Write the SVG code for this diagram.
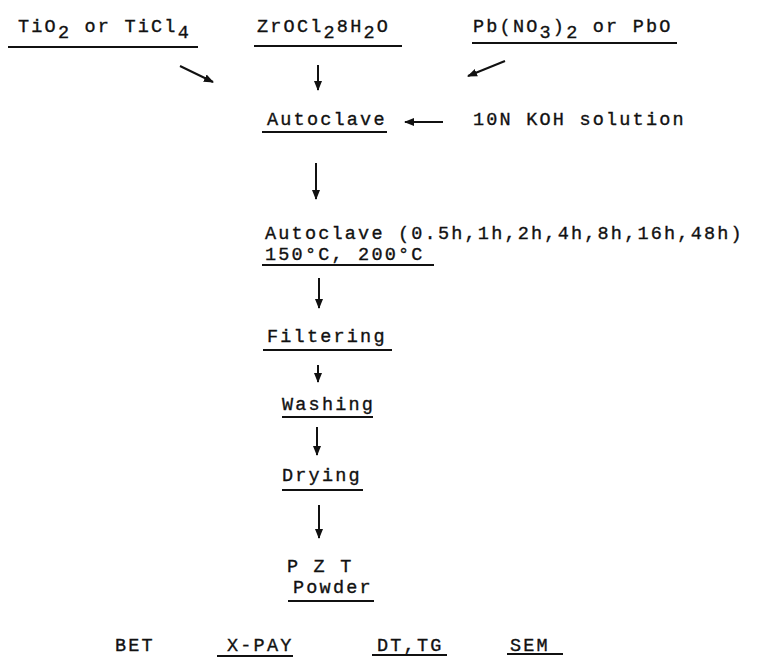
<svg xmlns="http://www.w3.org/2000/svg" width="762" height="657" viewBox="0 0 762 657">
<defs>
<style>
text{font-family:"Liberation Mono","Courier New",monospace;font-size:18.5px;letter-spacing:2.2px;fill:#111;stroke:#111;stroke-width:0.35;}
.ul{stroke:#111;stroke-width:2;fill:none;}
.c{stroke:#111;stroke-width:2;fill:none;marker-end:url(#ah);}
</style>
<marker id="ah" viewBox="0 0 10 10" refX="9" refY="5" markerWidth="5" markerHeight="5" orient="auto" markerUnits="strokeWidth">
<path d="M0,1 L10,5 L0,9 Z" fill="#111"/>
</marker>
</defs>
<rect width="762" height="657" fill="#fff"/>
<g id="tio2">
<text x="18" y="32">TiO<tspan dy="6">2</tspan><tspan dy="-6"> or TiCl</tspan><tspan dy="6">4</tspan></text>
<line class="ul" x1="8" y1="47" x2="198" y2="47"/>
</g>
<g id="zrocl2">
<text x="257" y="32">ZrOCl<tspan dy="6">2</tspan><tspan dy="-6">8H</tspan><tspan dy="6">2</tspan><tspan dy="-6">O</tspan></text>
<line class="ul" x1="254" y1="46" x2="402" y2="46"/>
</g>
<g id="pbno3">
<text x="473" y="32">Pb(NO<tspan dy="6">3</tspan><tspan dy="-6">)</tspan><tspan dy="6">2</tspan><tspan dy="-6"> or PbO</tspan></text>
<line class="ul" x1="472" y1="43" x2="677" y2="43"/>
</g>
<g id="autoclave1">
<text x="267" y="125">Autoclave</text>
<line class="ul" x1="262" y1="132" x2="387" y2="132"/>
</g>
<g id="koh">
<text x="473" y="125">10N KOH solution</text>
</g>
<g id="autoclave2">
<text x="265" y="239">Autoclave (0.5h,1h,2h,4h,8h,16h,48h)</text>
<text x="265" y="260">150°C, 200°C</text>
<line class="ul" x1="262" y1="265" x2="434" y2="265"/>
</g>
<g id="filtering">
<text x="267" y="342">Filtering</text>
<line class="ul" x1="263" y1="350" x2="392" y2="350"/>
</g>
<g id="washing">
<text x="282" y="410">Washing</text>
<line class="ul" x1="282" y1="417" x2="373" y2="417"/>
</g>
<g id="drying">
<text x="282" y="481">Drying</text>
<line class="ul" x1="282" y1="490" x2="363" y2="490"/>
</g>
<g id="pzt">
<text x="287" y="572">P Z T</text>
<text x="293" y="593">Powder</text>
<line class="ul" x1="288" y1="601" x2="374" y2="601"/>
</g>
<g id="bet">
<text x="115" y="651">BET</text>
</g>
<g id="xray">
<text x="227" y="651">X-PAY</text>
<line class="ul" x1="217" y1="656" x2="293" y2="656"/>
</g>
<g id="dttg">
<text x="377" y="651">DT,TG</text>
<line class="ul" x1="372" y1="655" x2="447" y2="655"/>
</g>
<g id="sem">
<text x="510" y="651">SEM</text>
<line class="ul" x1="507" y1="654" x2="563" y2="654"/>
</g>
<g id="connectors">
<line class="c" x1="180" y1="66" x2="213" y2="82"/>
<line class="c" x1="318" y1="65" x2="318" y2="90"/>
<line class="c" x1="505" y1="61" x2="468" y2="76"/>
<line class="c" x1="443" y1="122" x2="405" y2="122"/>
<line class="c" x1="316" y1="163" x2="316" y2="199"/>
<line class="c" x1="319" y1="278" x2="319" y2="308"/>
<line class="c" x1="318" y1="365" x2="318" y2="382"/>
<line class="c" x1="317" y1="427" x2="317" y2="455"/>
<line class="c" x1="319" y1="505" x2="319" y2="538"/>
</g>
</svg>
